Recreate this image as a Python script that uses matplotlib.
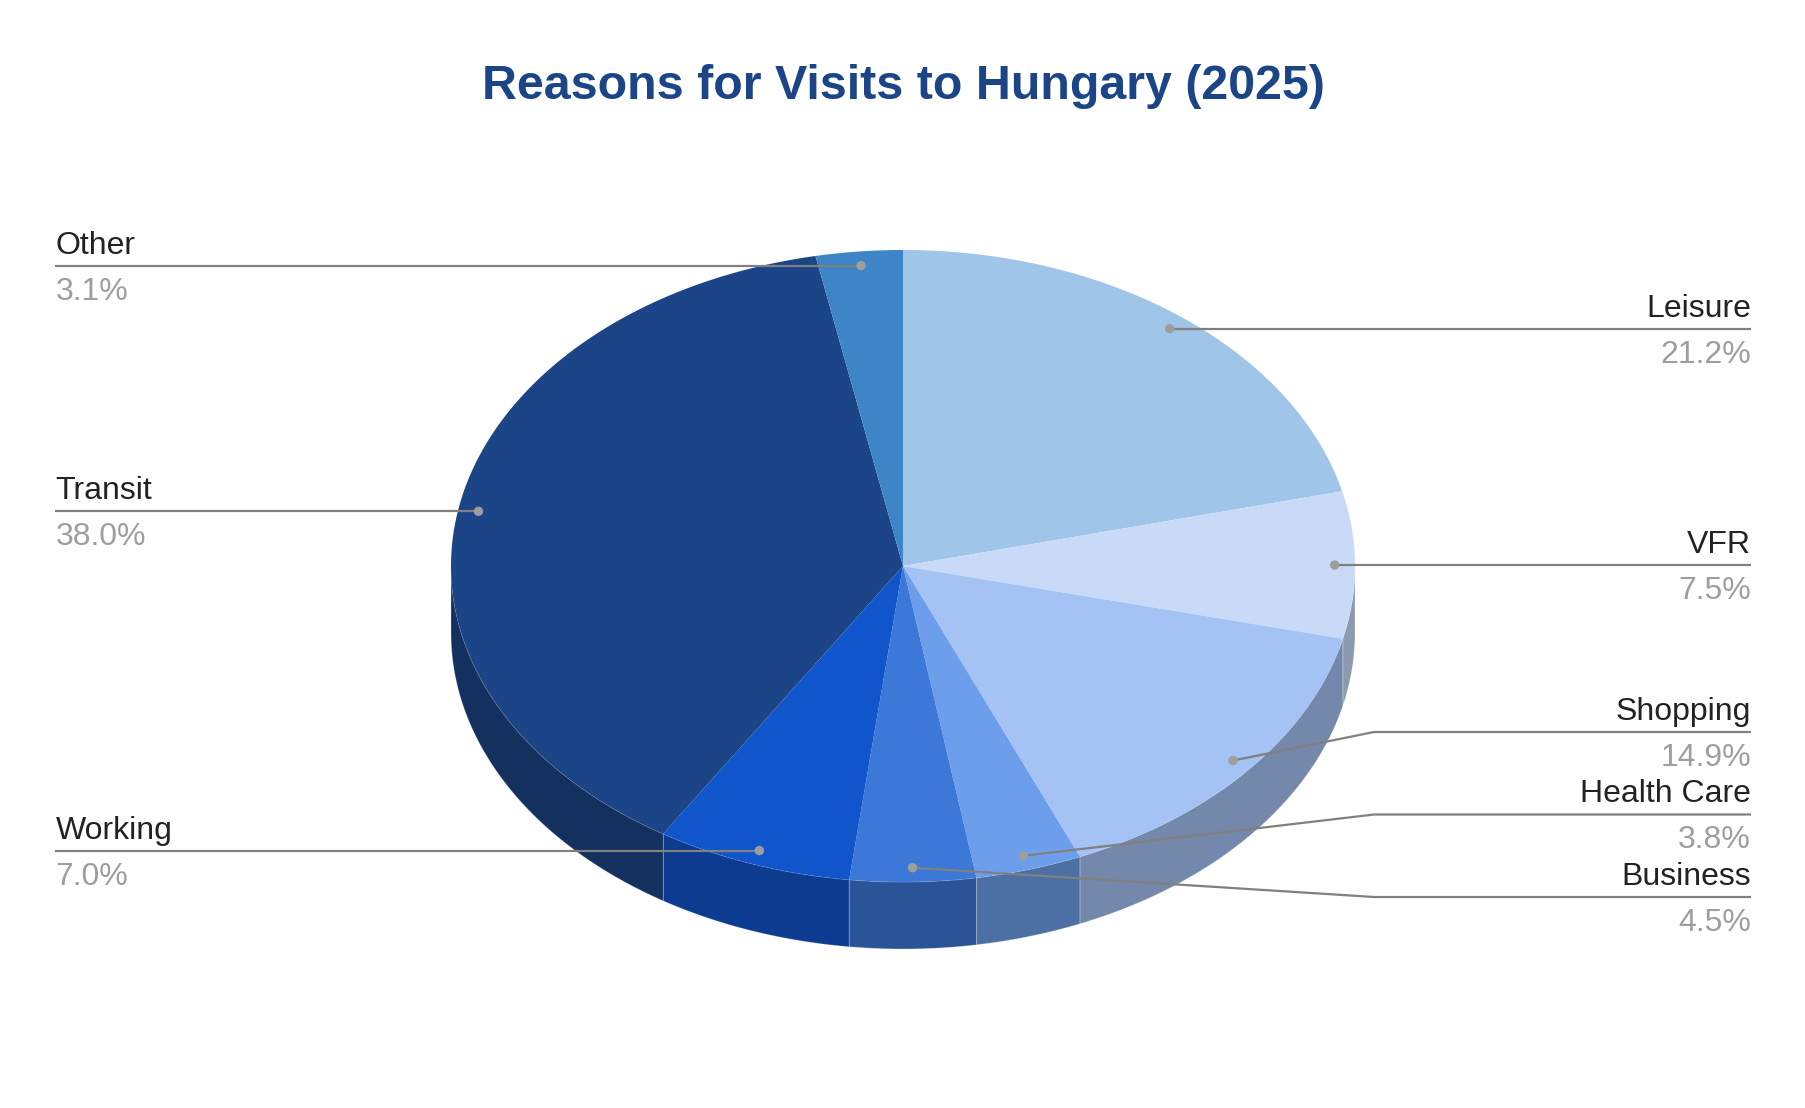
import numpy as np
import matplotlib.pyplot as plt
from matplotlib.patches import Polygon, Circle

plt.rcParams['font.family'] = ['Liberation Sans', 'DejaVu Sans']

# ---------------- data ----------------
labels = ["Leisure", "VFR", "Shopping", "Health Care", "Business", "Working", "Transit", "Other"]
values = [21.2, 7.5, 14.9, 3.8, 4.5, 7.0, 38.0, 3.1]
colors = ['#9fc5e8', '#c9daf8', '#a4c2f4', '#6d9eeb', '#3c78d8', '#1155cc', '#1c4587', '#3d85c6']
title = "Reasons for Visits to Hungary (2025)"

# ---------------- layout (pixels) ----------------
W, H = 1806, 1108
cx, cy, rx, ry, depth = 903, 566, 452, 316, 67
x_left, x_right = 55.5, 1751
elbow_r, elbow_l = 1374, 2 * cx - 1374
gap, ybot = 82.5, 897

fig = plt.figure(figsize=(W / 100, H / 100), dpi=100)
ax = fig.add_axes([0, 0, 1, 1])
ax.set_xlim(0, W)
ax.set_ylim(H, 0)
ax.axis('off')


def pt(t, r=1.0, dz=0.0):
    t = np.radians(t)
    return cx + r * rx * np.cos(t), cy - r * ry * np.sin(t) + dz


def darker(c, f=0.7):
    c = np.array(plt.matplotlib.colors.to_rgb(c))
    return tuple(c * f)


bounds = 90 - 3.6 * np.concatenate([[0], np.cumsum(values)])

# sides of the pie (front half only)
for i in range(len(values)):
    a0, a1 = bounds[i], bounds[i + 1]
    lo, hi = max(a1, -180), min(a0, 0)
    if lo >= hi:
        continue
    t = np.linspace(hi, lo, 120)
    xt, yt = pt(t)
    xb, yb = pt(t[::-1], dz=depth)
    poly = np.column_stack([np.concatenate([xt, xb]), np.concatenate([yt, yb])])
    ax.add_patch(Polygon(poly, closed=True, facecolor=darker(colors[i]),
                         edgecolor=(1, 1, 1, 0.25), lw=0.7, zorder=1))

# top face
for i in range(len(values)):
    t = np.linspace(bounds[i], bounds[i + 1], 200)
    xt, yt = pt(t)
    poly = np.column_stack([np.concatenate([[cx], xt]), np.concatenate([[cy], yt])])
    ax.add_patch(Polygon(poly, closed=True, facecolor=colors[i], edgecolor='none', zorder=2))

# labels
mids = (bounds[:-1] + bounds[1:]) / 2
dots = [pt(m, 0.955) for m in mids]
right = [i for i in range(len(values)) if np.cos(np.radians(mids[i])) > 0]
left = [i for i in range(len(values)) if i not in right]


def spread(idx):
    idx = sorted(idx, key=lambda k: dots[k][1])
    ys = [dots[k][1] for k in idx]
    for k in range(1, len(ys)):
        ys[k] = max(ys[k], ys[k - 1] + gap)
    if ys and ys[-1] > ybot:
        ys[-1] = ybot
    for k in range(len(ys) - 2, -1, -1):
        ys[k] = min(ys[k], ys[k + 1] - gap)
    return dict(zip(idx, ys))


pos = {}
pos.update(spread(right))
pos.update(spread(left))

line_col = '#808080'
for i in range(len(values)):
    dx, dy = dots[i]
    y = pos[i]
    is_right = i in right
    xe = x_right if is_right else x_left
    xm = elbow_r if is_right else elbow_l
    if abs(y - dy) < 0.5:
        xs, ys = [dx, xe], [dy, y]
    else:
        xs, ys = [dx, xm, xe], [dy, y, y]
    ax.plot(xs, ys, color=line_col, lw=1.6, zorder=3, solid_capstyle='butt')
    ax.add_patch(Circle((dx, dy), 4, color='#9e9e9e', zorder=4))
    ha = 'right' if is_right else 'left'
    ax.text(xe, y - 12, labels[i], ha=ha, va='baseline', fontsize=23, color='#222222')
    ax.text(xe, y + 34, f"{values[i]:.1f}%", ha=ha, va='baseline', fontsize=23, color='#9e9e9e')

ax.text(cx, 99, title, ha='center', va='baseline', fontsize=34.8, fontweight='bold', color='#1c4587')

fig.savefig('out.png', dpi=100)
